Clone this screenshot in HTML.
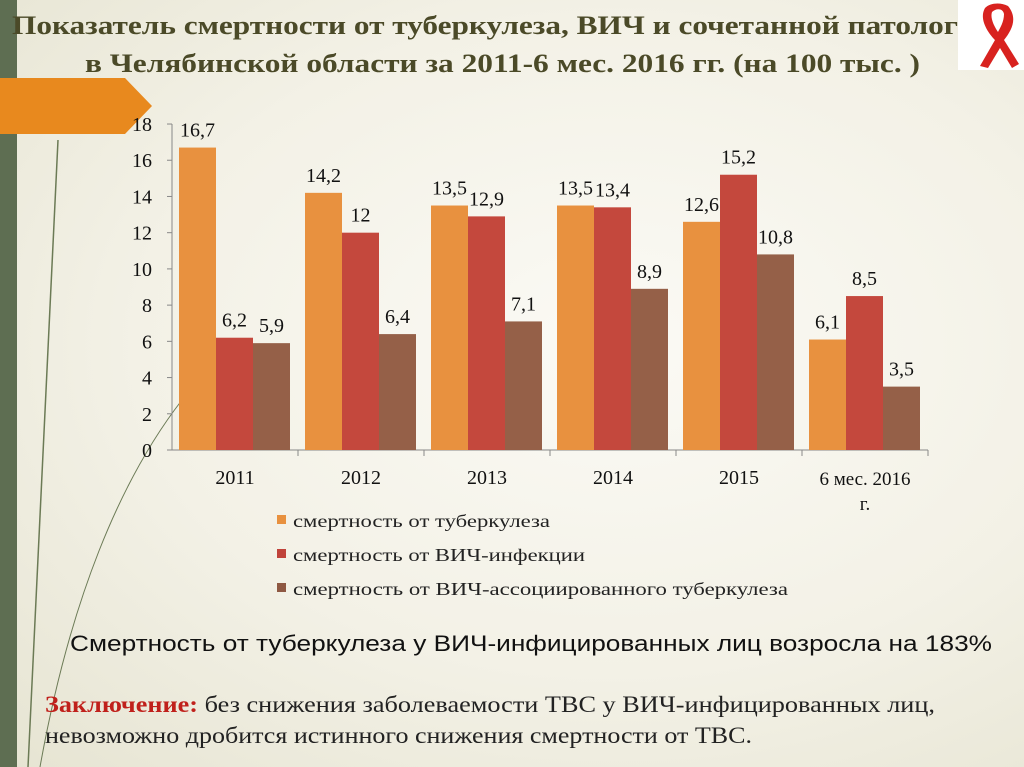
<!DOCTYPE html>
<html><head><meta charset="utf-8">
<style>
body{margin:0;width:1024px;height:767px;overflow:hidden;background:#efeee3;font-family:"Liberation Serif",serif;}
#bg{position:absolute;left:0;top:0;width:1024px;height:767px;background:radial-gradient(ellipse at 60% 45%,#fbfaf5 0%,#f3f1e6 55%,#e6e4d2 100%);}
</style></head><body>
<div id="bg"></div>
<svg width="1024" height="767" style="position:absolute;left:0;top:0">
<rect x="0" y="0" width="17" height="767" fill="#5e6e52"/>
<polygon points="0,78 125,78 152,106 125,134 0,134" fill="#e8891e"/>
<path d="M58,140 C52,300 40,500 28,767" stroke="#6b7a55" stroke-width="1.5" fill="none"/>
<path d="M182,400 C120,480 70,600 40,767" stroke="#6b7a55" stroke-width="1" fill="none"/>
<rect x="958" y="0" width="66" height="70" fill="#ffffff"/>
<path d="M985,8 C978,20 990,35 995,40 L980,66 L988,68 L1000,48 L1012,68 L1019,64 L1004,40 C1012,30 1018,18 1008,6 C1000,2 990,3 985,8 Z M992,12 C996,8 1003,8 1004,14 C1004,22 1000,28 998,32 C994,26 990,18 992,12Z" fill="#d8221f" fill-rule="evenodd"/>
<text x="12" y="34" font-size="26" font-weight="bold" fill="#4b4a28" textLength="946" lengthAdjust="spacingAndGlyphs">Показатель смертности от туберкулеза, ВИЧ и сочетанной патолог</text>
<text x="85" y="72" font-size="26" font-weight="bold" fill="#4b4a28" textLength="835" lengthAdjust="spacingAndGlyphs">в Челябинской области за 2011-6 мес. 2016 гг. (на 100 тыс. )</text>
<g id="chart"></g>
<g>
<rect x="277" y="515" width="9" height="9" fill="#e8913f"/>
<text x="293" y="527" font-size="18" fill="#222" textLength="257" lengthAdjust="spacingAndGlyphs">смертность от туберкулеза</text>
<rect x="277" y="549" width="9" height="9" fill="#c0433a"/>
<text x="293" y="561" font-size="18" fill="#222" textLength="292" lengthAdjust="spacingAndGlyphs">смертность от ВИЧ-инфекции</text>
<rect x="277" y="583" width="9" height="9" fill="#8e5842"/>
<text x="293" y="595" font-size="18" fill="#222" textLength="495" lengthAdjust="spacingAndGlyphs">смертность от ВИЧ-ассоциированного туберкулеза</text>
</g>
<text x="70" y="651" font-family="Liberation Sans, sans-serif" font-size="22" fill="#111" textLength="922" lengthAdjust="spacingAndGlyphs">Смертность от туберкулеза у ВИЧ-инфицированных лиц возросла  на 183%</text>
<text x="45" y="712" font-size="23" fill="#222" textLength="890" lengthAdjust="spacingAndGlyphs"><tspan font-weight="bold" fill="#c0201b">Заключение:</tspan> без снижения заболеваемости ТВС у  ВИЧ-инфицированных лиц,</text>
<text x="45" y="743" font-size="23" fill="#222" textLength="707" lengthAdjust="spacingAndGlyphs">невозможно  дробится истинного снижения смертности  от ТВС.</text>
</svg>
<script>
const categories=["2011","2012","2013","2014","2015","6 мес. 2016"];
const tbValues=[16.7,14.2,13.5,13.5,12.6,6.1];
const hivValues=[6.2,12,12.9,13.4,15.2,8.5];
const assocValues=[5.9,6.4,7.1,8.9,10.8,3.5];
const yTicks=[0,2,4,6,8,10,12,14,16,18];
const NS="http://www.w3.org/2000/svg";
const g=document.getElementById('chart');
const x0=172,catW=126,y0=450,pxPer=18.11,barW=37;
const ys=v=>y0-v*pxPer;
function mk(tag,attrs,txt){const e=document.createElementNS(NS,tag);for(const k in attrs)e.setAttribute(k,attrs[k]);if(txt!==undefined)e.textContent=txt;g.appendChild(e);return e;}
let ax=mk('line',{x1:x0,y1:ys(18),x2:x0,y2:y0,stroke:'#888'});


yTicks.forEach(t=>{
 let l=mk('line',{x1:x0-5,y1:ys(t),x2:x0,y2:ys(t),stroke:'#888'});
 
 
 let tx=mk('text',{x:x0-20,y:ys(t)+7,'font-size':20,'text-anchor':'end',fill:'#111'},String(t));
 
 
});
let xa=mk('line',{x1:x0,y1:y0,x2:x0+catW*categories.length,y2:y0,stroke:'#888'});


const series=[[tbValues,'#e8913f'],[hivValues,'#c4483d'],[assocValues,'#956048']];
categories.forEach((c,i)=>{
 const cx=x0+catW*i;
 let tk=mk('line',{x1:cx+catW,y1:y0,x2:cx+catW,y2:y0+6,stroke:'#888'});
 
 
 if(c.indexOf('мес')>=0){
  let t1=mk('text',{x:cx+catW/2,y:y0+35,'font-size':19,'text-anchor':'middle',fill:'#111'},c);
  
  
  let t2=mk('text',{x:cx+catW/2,y:y0+60,'font-size':19,'text-anchor':'middle',fill:'#111'},'г.');
  
  
 } else {
  let t=mk('text',{x:cx+catW/2,y:y0+34,'font-size':20,'text-anchor':'middle',fill:'#111'},c);
  
  
 }
 series.forEach((s,j)=>{
  const v=s[0][i];const bx=cx+7+j*barW;
  let r=mk('rect',{x:bx,y:ys(v),width:barW,height:v*pxPer,fill:s[1]});
  
  
  let lb=mk('text',{x:bx+barW/2,y:ys(v)-11,'font-size':20,'text-anchor':'middle',fill:'#111'},String(v).replace('.',','));
  
  
 });
});
</script>
</body></html>
